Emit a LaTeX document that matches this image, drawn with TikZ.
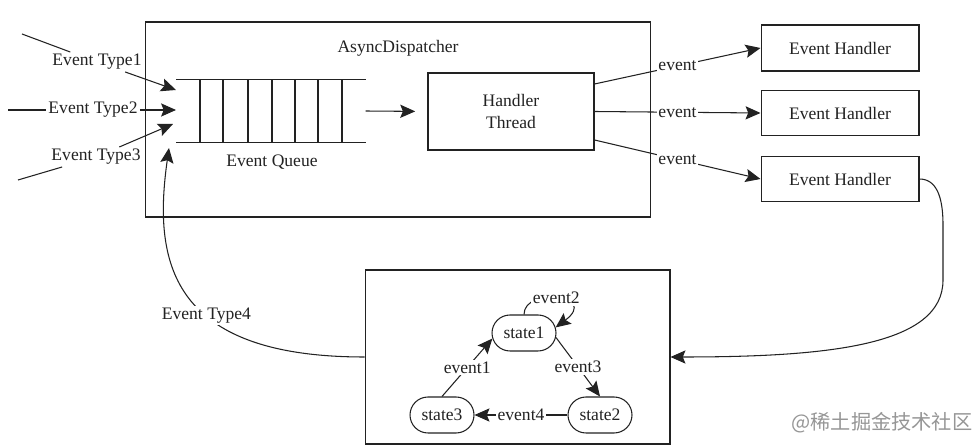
\documentclass[tikz,border=0pt]{standalone}
\usepackage{fontspec}
\setmainfont{Liberation Serif}
\newfontfamily\cjkfont{Noto Sans CJK SC}
\usetikzlibrary{arrows.meta,shapes.misc}
\definecolor{ink}{HTML}{222222}
\definecolor{wmgray}{RGB}{150,150,150}
\begin{document}
\begin{tikzpicture}[x=0.02cm,y=-0.02cm,line width=0.6pt,
  every node/.style={font=\fontsize{10}{12}\selectfont,text=ink},
  box/.style={draw=ink,rectangle,inner sep=0pt},
  arr/.style={draw=ink,-{Stealth[length=8.5pt,width=7.5pt,inset=1.5pt]}},
  lab/.style={fill=white,inner sep=1pt},
  tlab/.style={inner sep=1pt},
  statebox/.style={draw=ink,rounded rectangle,minimum width=1.28cm,minimum height=0.72cm,inner sep=0pt}]
\fill[white] (0,0) rectangle (979,448);
\useasboundingbox (0,0) rectangle (979,448);

% AsyncDispatcher
\node[box,minimum width=10.12cm,minimum height=3.9cm] (ad) at (398,119.5) {};
\node[anchor=west,inner sep=0pt] (adl) at (337,48) {AsyncDispatcher};

% queue
\node[minimum width=3.76cm,minimum height=1.24cm,inner sep=0pt] (q) at (271,111) {};
\draw[ink] (q.north west) -- (q.north east) (q.south west) -- (q.south east);
\foreach \x in {200,223,248,272,295,318,342} \draw[ink] (\x,80) -- (\x,142);
\node (eq) at (272,162) {Event Queue};

% handler thread
\node[box,minimum width=3.32cm,minimum height=1.54cm,align=center] (ht) at (511,111.5) {Handler\\Thread};
\draw[arr,shorten >=7pt] (q.east) -- (ht.west);

% event handlers
\node[box,minimum width=3.16cm,minimum height=0.92cm] (eh1) at (840,48) {Event Handler};
\node[box,minimum width=3.16cm,minimum height=0.9cm] (eh2) at (840,113) {Event Handler};
\node[box,minimum width=3.16cm,minimum height=0.9cm] (eh3) at (840,179) {Event Handler};
\draw[arr] ([yshift=0.55cm]ht.east) -- node[lab]{event} (eh1.west);
\draw[arr] (ht.east) -- node[lab]{event} (eh2.west);
\draw[arr] ([yshift=-0.57cm]ht.east) -- node[lab]{event} (eh3.west);

% event types
\coordinate (t1s) at (22,34);  \coordinate (t1e) at (176,90);
\coordinate (t2s) at (8,110);  \coordinate (t2e) at (176,110);
\coordinate (t3s) at (18,180); \coordinate (t3e) at (173,124);
\coordinate (t4e) at (169,148);
\node[tlab] (t1) at (97,62) {Event Type1};
\node[tlab] (t2) at (93,110) {Event Type2};
\node[tlab] (t3) at (96,157) {Event Type3};
\draw[ink] (t1s) -- (t1); \draw[arr] (t1) -- (t1e);
\draw[ink] (t2s) -- (t2); \draw[arr] (t2) -- (t2e);
\draw[ink] (t3s) -- (t3); \draw[arr] (t3) -- (t3e);

% state machine
\node[box,minimum width=6.1cm,minimum height=3.48cm] (sm) at (517.5,357) {};
\node[statebox] (s1) at (524,333) {state1};
\node[statebox] (s2) at (600,415) {state2};
\node[statebox] (s3) at (442,415) {state3};
\draw[arr] (s1.north) .. controls +(0,-28) and +(44,-33) .. (s1.10) node[lab,pos=0.5]{event2};
\draw[arr] (s1.-8) -- node[lab]{event3} (s2.north);
\draw[arr] (s2.west) -- node[lab]{event4} (s3.east);
\draw[arr] (s3.north) -- node[lab]{event1} (s1.190);

% feedback
\draw[arr] (sm.west) .. controls +(-196,0) and +(-16,112) .. (t4e) node[lab,pos=0.4]{Event Type4};
\coordinate (rc1) at (943,225);
\coordinate (rc2) at (943,280);
\draw[arr] (eh3.east) to[out=0,in=90] (rc1) -- (rc2) .. controls +(0,65) and +(160,0) .. (sm.east);

% watermark
\node[text=wmgray,font=\cjkfont\fontsize{11.5}{12}\selectfont] (wm) at (882,423) {@稀土掘金技术社区};
\end{tikzpicture}
\end{document}
